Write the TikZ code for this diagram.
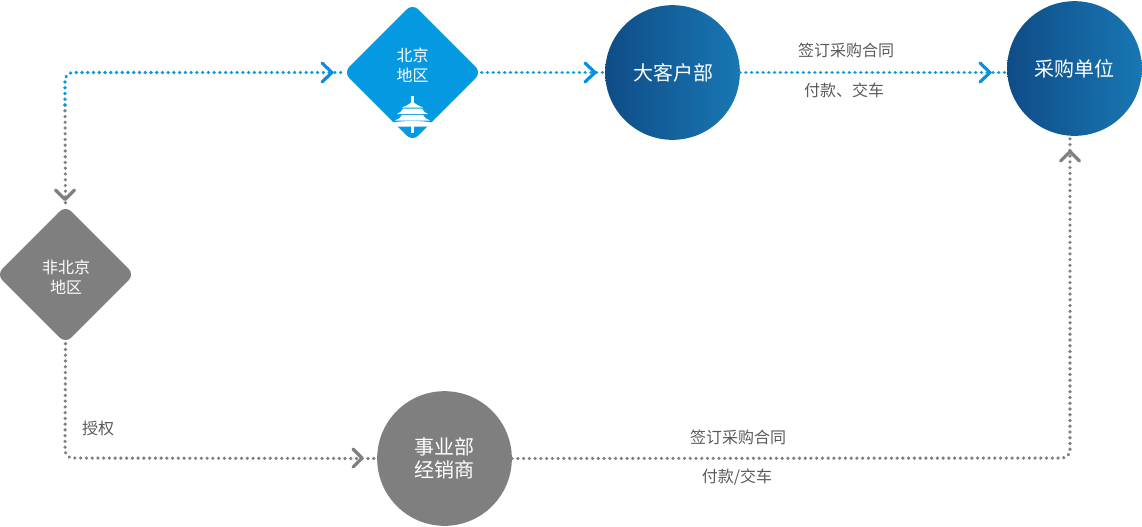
\documentclass[tikz,border=0pt]{standalone}
\usepackage{fontspec}
\setmainfont{Noto Sans CJK SC}
\usetikzlibrary{arrows.meta,shadings}
\definecolor{cblue}{HTML}{0599E1}
\definecolor{lblue}{HTML}{0A8FE0}
\definecolor{cgrey}{HTML}{7F7F7F}
\definecolor{dgrey}{HTML}{808080}
\definecolor{ltxt}{HTML}{5A5A5A}
\definecolor{gl}{HTML}{0F4C87}
\definecolor{gr}{HTML}{1877B3}
\tikzset{
  x=0.75pt,y=-0.75pt,
  dots/.style={line width=2.7pt,line cap=round,dash pattern=on 0.01pt off 4.3pt,rounded corners=6pt},
  bluedots/.style={dots,draw=cblue},
  greydots/.style={dots,draw=dgrey},
  chev/.style={line width=2.4pt,line cap=round,line join=round},
  diam/.style={shape=rectangle,minimum size=73pt,inner sep=0pt,rotate=45,rounded corners=6pt,fill=#1},
  dtext/.style={text=white,font=\fontsize{12}{15.5}\selectfont,align=center},
  gcirc/.style={circle,minimum size=101pt,inner sep=0pt,left color=gl,right color=gr},
  scirc/.style={circle,minimum size=101pt,inner sep=0pt,fill=cgrey},
  ctext/.style={text=white,font=\fontsize{15}{18}\selectfont,align=center},
  lab/.style={text=ltxt,font=\fontsize{12}{14}\selectfont,inner sep=0pt},
}
\begin{document}
\begin{tikzpicture}
\useasboundingbox (0,0) rectangle (1142,526);
% connector anchors
\coordinate (topleft) at (65,72.5);
\coordinate (split) at (65,105);
\coordinate (botleft) at (65,458);
\coordinate (botright) at (1070,458);
% nodes
\node[diam=cblue] (bj) at (412.5,72.5) {};
\node[diam=cgrey] (nbj) at (65.5,274.5) {};
\node[gcirc] (dkh) at (672.5,72.5) {};
\node[gcirc] (cg) at (1074.5,68.5) {};
\node[scirc] (jxs) at (444.5,458.5) {};
% connectors
\draw[greydots] (split) -- (nbj.north east);
\draw[bluedots] (split) -- (topleft) -- (bj.north west);
\draw[bluedots] (bj.south east) -- (dkh.west);
\draw[bluedots] (dkh.east) -- (dkh.east -| cg.west);
\draw[greydots] (nbj.south west) -- (botleft) -- (jxs.west);
\draw[greydots] (jxs.east) -- (botright) -- (cg.south -| botright);
% chevrons
\draw[chev,draw=lblue] (322,63) -- (332,72.5) -- (322,82);
\draw[chev,draw=lblue] (585,63) -- (595,72.5) -- (585,82);
\draw[chev,draw=lblue] (980,63) -- (990,72.5) -- (980,82);
\draw[chev,draw=dgrey] (55.5,190) -- (65,199.5) -- (74.5,190);
\draw[chev,draw=dgrey] (353,449) -- (362,458) -- (353,467);
\draw[chev,draw=dgrey] (1060.5,161) -- (1070,151.5) -- (1079.5,161);
% node texts
\node[ctext] (dkht) at (673,72.5) {大客户部};
\node[ctext] (cgt) at (1074,68.5) {采购单位};
\node[ctext] (jxst) at (444.5,458.5) {事业部\\[-1pt]经销商};
\node[dtext] (bjt) at (412.5,65) {北京\\地区};
\node[dtext] (nbjt) at (66,277) {非北京\\地区};
% temple
\fill[white] (411.2,95.5) rectangle (413.6,103);
\fill[white] (412.4,101) .. controls (415,104) and (419,106) .. (423,107.5) -- (402,107.5) .. controls (406,106) and (410,104) .. (412.4,101) -- cycle;
\fill[white] (403,108.5) -- (422,108.5) .. controls (423,111) and (425,113) .. (428,114) -- (397,114) .. controls (400,113) and (402,111) .. (403,108.5) -- cycle;
\fill[white] (402,115) -- (423,115) .. controls (424,117.5) and (427,119.5) .. (430,120.5) -- (395,120.5) .. controls (398,119.5) and (401,117.5) .. (402,115) -- cycle;
\fill[white] (393,122.5) .. controls (405,120.5) and (420,120.5) .. (432,122.5) -- (431,126.5) -- (394,126.5) -- cycle;
\fill[white] (411.2,126) rectangle (413.6,133);
% labels
\node[lab] (l1) at (846,50) {签订采购合同};
\node[lab] (l2) at (844,90) {付款、交车};
\node[lab] (l3) at (98,428) {授权};
\node[lab] (l4) at (738,437) {签订采购合同};
\node[lab] (l5) at (737,477) {付款/交车};
\end{tikzpicture}
\end{document}
